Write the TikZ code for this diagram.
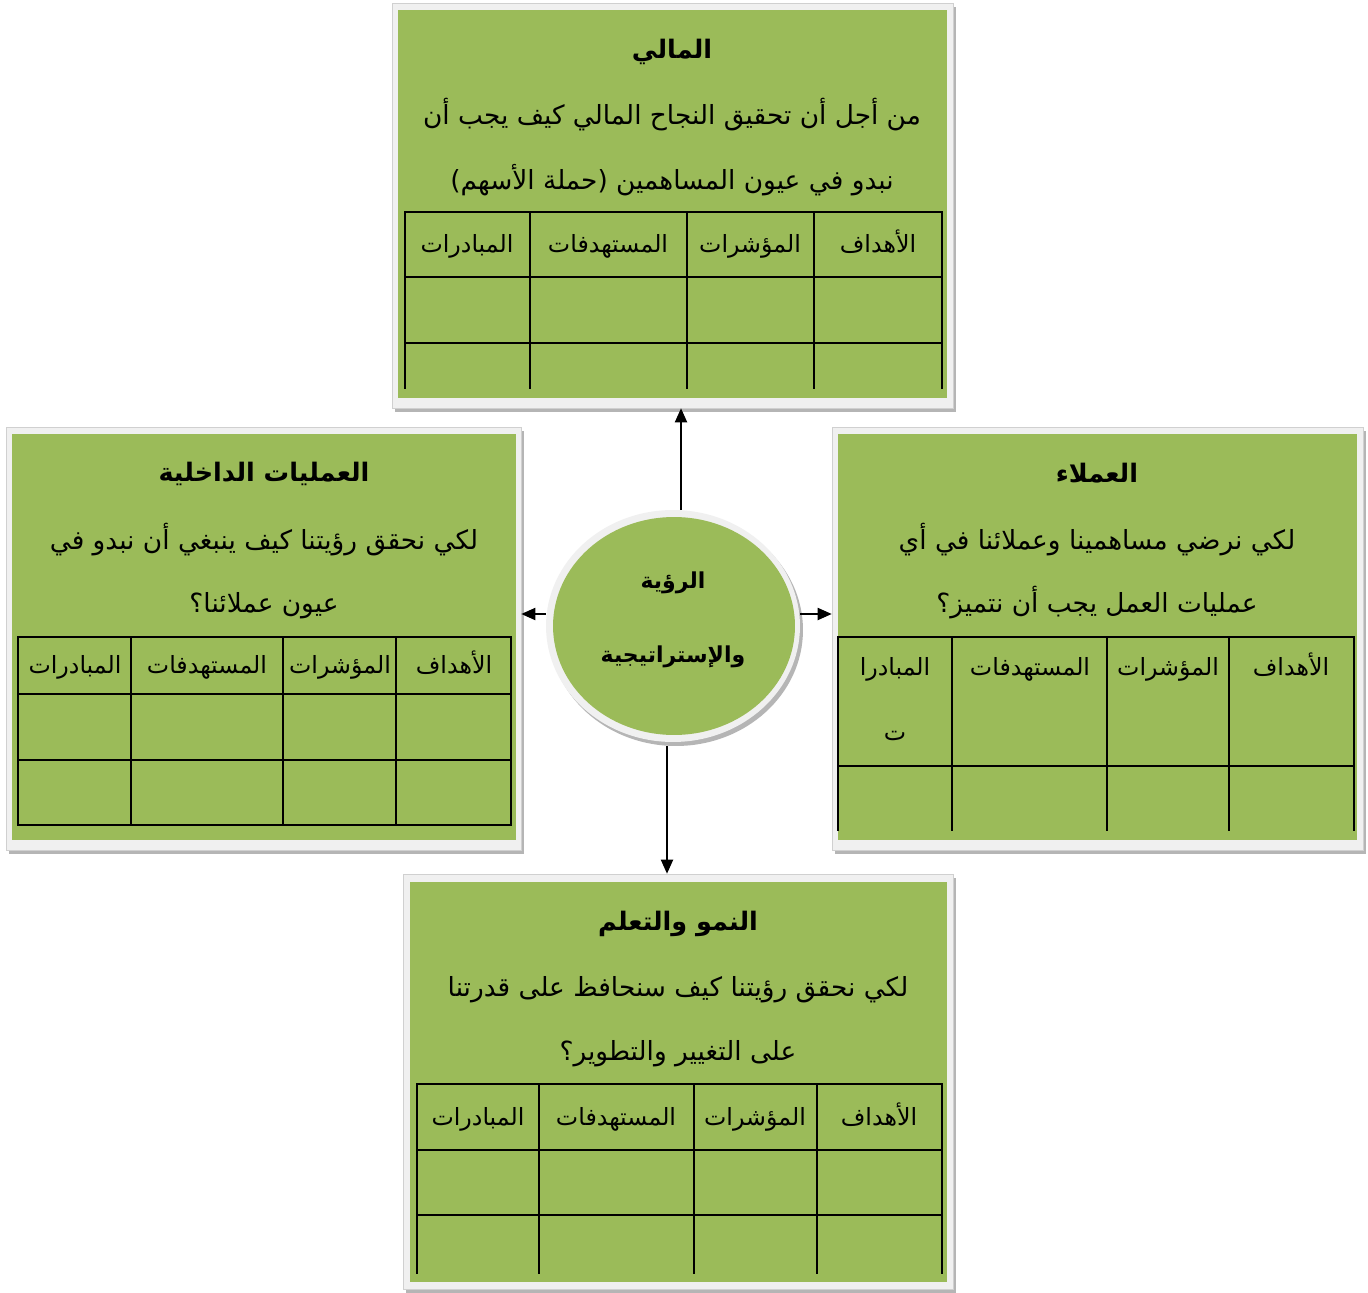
\documentclass[tikz,border=0pt]{standalone}
\usepackage{fontspec}
\usetikzlibrary{arrows.meta,shapes.geometric,fit}
\TeXXeTstate=1
\newfontfamily\arabicfont[Script=Arabic]{DejaVu Sans}
\definecolor{olive}{HTML}{9BBB59}
\definecolor{framegray}{HTML}{F0F0F0}
\definecolor{edgegray}{HTML}{D0D0D0}
\definecolor{shadowgray}{HTML}{B5B5B5}
\tikzset{
  shadowfill/.style={fill=shadowgray, draw=none},
  framefill/.style={fill=framegray, draw=edgegray, line width=0.5pt},
  greenfill/.style={fill=olive, draw=none},
  tableline/.style={line width=1.1pt, black, line cap=rect},
  ttl/.style={font=\arabicfont\bfseries\fontsize{14.5}{18}\selectfont, inner sep=0pt, text height=11pt, text depth=4pt},
  body/.style={font=\arabicfont\fontsize{15}{18}\selectfont, inner sep=0pt, text height=11pt, text depth=4pt},
  hdr/.style={font=\arabicfont\fontsize{13.5}{16}\selectfont, inner sep=0pt, text height=10pt, text depth=4pt},
  ctext/.style={font=\arabicfont\bfseries\fontsize{12.5}{15}\selectfont, inner sep=0pt, text height=10pt, text depth=4pt},
  arr/.style={-{Triangle[length=8pt,width=7pt]}, line width=0.7pt},
  boxname/.style={inner sep=0pt, draw=none}
}
\newcommand{\panel}[9]{%
  \fill[shadowfill] (#2+3,#3+4) rectangle (#4+3,#5+4);
  \filldraw[framefill] (#2,#3) rectangle (#4,#5);
  \fill[greenfill] (#6,#7) rectangle (#8,#9);
  \node[boxname, fit={(#2,#3) (#4,#5)}] (#1) {};
}
\begin{document}
\begin{tikzpicture}[x=0.02cm,y=-0.02cm]
\useasboundingbox[fill=white] (0,0) rectangle (1368,1293);

% ---------- panels ----------
\panel{topbox}{392}{3}{953}{408}{398}{10}{947}{398}
\panel{rightbox}{832}{427}{1363}{850}{838}{434}{1357}{840}
\panel{leftbox}{6}{427}{521}{850}{12}{434}{516}{840}
\panel{botbox}{403}{874}{953}{1289}{410}{882}{947}{1282}

% ---------- top panel ----------
\node[ttl] (tT) at (672,52) {\beginR المالي\endR};
\node[body] (tL1) at (672,118) {\beginR من أجل أن تحقيق النجاح المالي كيف يجب أن\endR};
\node[body] (tL2) at (672,183) {\beginR نبدو في عيون المساهمين (حملة الأسهم)\endR};
\draw[tableline] (405,212) -- (942,212) (405,277) -- (942,277) (405,343) -- (942,343);
\foreach \xx in {405,530,687,814,942} \draw[tableline] (\xx,212) -- (\xx,388);
\node[hdr] (tH1) at (878,247) {\beginR الأهداف\endR};
\node[hdr] (tH2) at (750,247) {\beginR المؤشرات\endR};
\node[hdr] (tH3) at (608,247) {\beginR المستهدفات\endR};
\node[hdr] (tH4) at (467,247) {\beginR المبادرات\endR};

% ---------- right panel ----------
\node[ttl] (rT) at (1097,476) {\beginR العملاء\endR};
\node[body] (rL1) at (1097,543) {\beginR لكي نرضي مساهمينا وعملائنا في أي\endR};
\node[body] (rL2) at (1097,606) {\beginR عمليات العمل يجب أن نتميز؟\endR};
\draw[tableline] (838,637) -- (1354,637) (838,766) -- (1354,766);
\foreach \xx in {838,952,1107,1229,1354} \draw[tableline] (\xx,637) -- (\xx,830);
\node[hdr] (rH1) at (1291,670) {\beginR الأهداف\endR};
\node[hdr] (rH2) at (1168,670) {\beginR المؤشرات\endR};
\node[hdr] (rH3) at (1030,670) {\beginR المستهدفات\endR};
\node[hdr] (rH4) at (895,670) {\beginR المبادرا\endR};
\node[hdr] (rH4b) at (895,735) {\beginR ت\endR};

% ---------- left panel ----------
\node[ttl] (lT) at (264,475) {\beginR العمليات الداخلية\endR};
\node[body] (lL1) at (264,543) {\beginR لكي نحقق رؤيتنا كيف ينبغي أن نبدو في\endR};
\node[body] (lL2) at (264,606) {\beginR عيون عملائنا؟\endR};
\draw[tableline] (18,637) -- (511,637) (18,694) -- (511,694) (18,760) -- (511,760) (18,825) -- (511,825);
\foreach \xx in {18,131,283,396,511} \draw[tableline] (\xx,637) -- (\xx,825);
\node[hdr] (lH1) at (454,668) {\beginR الأهداف\endR};
\node[hdr] (lH2) at (340,668) {\beginR المؤشرات\endR};
\node[hdr] (lH3) at (207,668) {\beginR المستهدفات\endR};
\node[hdr] (lH4) at (75,668) {\beginR المبادرات\endR};

% ---------- bottom panel ----------
\node[ttl] (bT) at (678,924) {\beginR النمو والتعلم\endR};
\node[body] (bL1) at (678,990) {\beginR لكي نحقق رؤيتنا كيف سنحافظ على قدرتنا\endR};
\node[body] (bL2) at (678,1054) {\beginR على التغيير والتطوير؟\endR};
\draw[tableline] (417,1084) -- (942,1084) (417,1150) -- (942,1150) (417,1215) -- (942,1215);
\foreach \xx in {417,539,694,817,942} \draw[tableline] (\xx,1084) -- (\xx,1273);
\node[hdr] (bH1) at (879,1120) {\beginR الأهداف\endR};
\node[hdr] (bH2) at (755,1120) {\beginR المؤشرات\endR};
\node[hdr] (bH3) at (616,1120) {\beginR المستهدفات\endR};
\node[hdr] (bH4) at (478,1120) {\beginR المبادرات\endR};

% ---------- centre circle ----------
\fill[shadowgray] (676,630) ellipse [x radius=2.54cm, y radius=2.32cm];
\fill[framegray] (673,626) ellipse [x radius=2.54cm, y radius=2.32cm];
\fill[olive] (674,626) ellipse [x radius=2.42cm, y radius=2.18cm];
\node[ellipse, minimum width=5.08cm, minimum height=4.64cm, inner sep=0pt] (c) at (673,626) {};
\node[ctext] (c1) at (673,583) {\beginR الرؤية\endR};
\node[ctext] (c2) at (673,657) {\beginR والإستراتيجية\endR};

% ---------- connectors ----------
\coordinate (upx) at (681,0);
\coordinate (dnx) at (667,0);
\coordinate (midy) at (0,614);
\draw[arr] (c.north -| upx) -- (topbox.south -| upx);
\draw[arr] (c.south -| dnx) ++(0,-2pt) -- (botbox.north -| dnx);
\draw[arr] (c.west |- midy) -- (leftbox.east |- midy);
\draw[arr] (c.east |- midy) -- (rightbox.west |- midy);
\end{tikzpicture}
\end{document}
